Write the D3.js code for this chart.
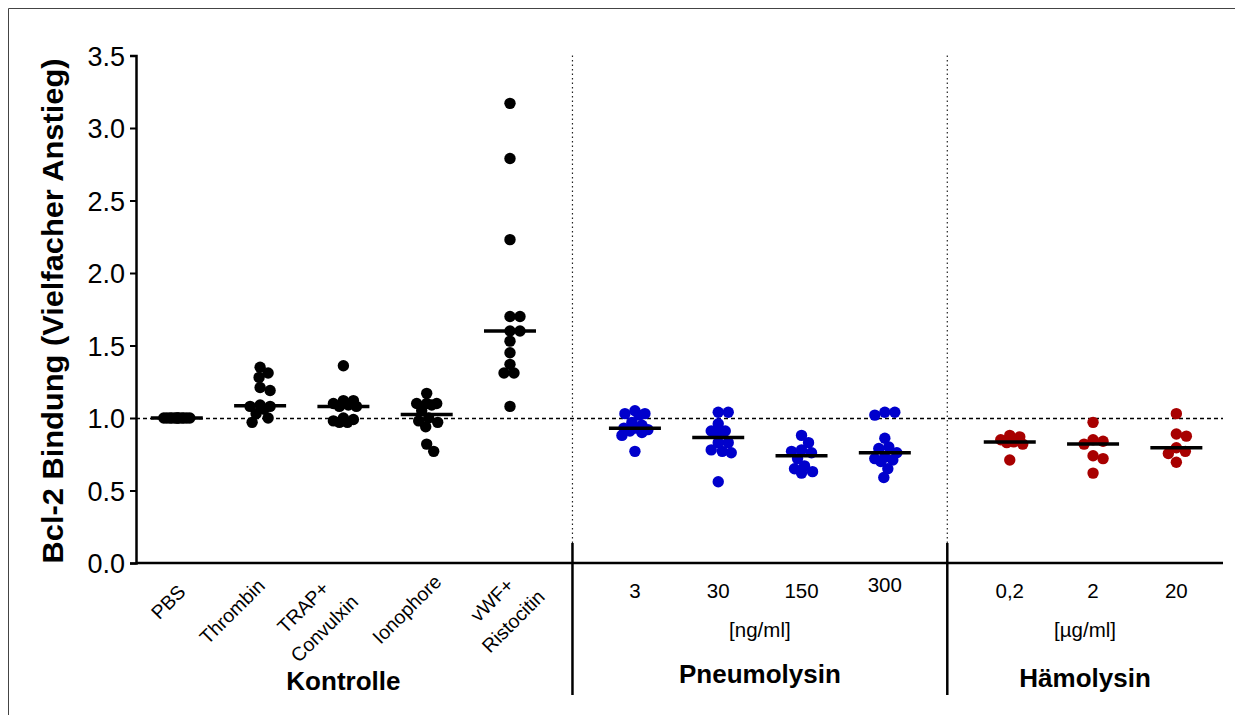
<!DOCTYPE html>
<html>
<head>
<meta charset="utf-8">
<script src="https://cdn.jsdelivr.net/npm/d3@7"></script>
<style>
  body { margin: 0; background: #fff; }
  svg { display: block; }
  text { font-family: "Liberation Sans", Arial, sans-serif; fill: #000; }
</style>
</head>
<body>
<div id="chart"></div>
<script>
// categories
var kontrolleLabels = [["PBS"], ["Thrombin"], ["TRAP+", "Convulxin"], ["Ionophore"], ["vWF+", "Ristocitin"]];
var pneumoLabels = ["3", "30", "150", "300"];
var haemoLabels = ["0,2", "2", "20"];
var groupNames = ["Kontrolle", "Pneumolysin", "Hämolysin"];
var unitLabels = ["", "[ng/ml]", "[µg/ml]"];
var yTicks = [0, 0.5, 1.0, 1.5, 2.0, 2.5, 3.0, 3.5];

// values (fold increase)
var pbs = [1, 1, 1, 1, 1, 1, 1, 1, 1, 1, 1, 1];
var thrombin = [1.35, 1.31, 1.28, 1.21, 1.19, 1.09, 1.08, 1.08, 1.06, 1.03, 1.00, 0.97];
var trapConvulxin = [1.36, 1.12, 1.12, 1.10, 1.09, 1.08, 1.08, 1.00, 0.99, 0.98, 0.97, 0.97];
var ionophore = [1.17, 1.10, 1.10, 1.10, 1.09, 1.05, 1.00, 0.98, 0.97, 0.94, 0.82, 0.77];
var vwfRistocitin = [3.17, 2.79, 2.23, 1.70, 1.70, 1.60, 1.60, 1.53, 1.45, 1.37, 1.31, 1.31, 1.08];
var pneumo3 = [1.05, 1.03, 1.03, 1.02, 0.97, 0.95, 0.93, 0.93, 0.92, 0.91, 0.90, 0.88, 0.77];
var pneumo30 = [1.04, 1.04, 0.96, 0.91, 0.91, 0.90, 0.83, 0.83, 0.78, 0.77, 0.76, 0.56];
var pneumo150 = [0.88, 0.83, 0.78, 0.77, 0.76, 0.72, 0.67, 0.65, 0.63, 0.62];
var pneumo300 = [1.04, 1.04, 1.02, 0.86, 0.80, 0.79, 0.76, 0.73, 0.72, 0.71, 0.70, 0.65, 0.59];
var haemo02 = [0.88, 0.87, 0.85, 0.835, 0.83, 0.82, 0.71];
var haemo2 = [0.97, 0.85, 0.84, 0.82, 0.74, 0.72, 0.62];
var haemo20 = [1.03, 0.89, 0.875, 0.795, 0.77, 0.755, 0.695];

var groupColors = ["#000000", "#0000cc", "#a80000"];

var groups = [
  {name: groupNames[0], unit: unitLabels[0], color: groupColors[0], labels: kontrolleLabels,
   series: [pbs, thrombin, trapConvulxin, ionophore, vwfRistocitin]},
  {name: groupNames[1], unit: unitLabels[1], color: groupColors[1], labels: pneumoLabels,
   series: [pneumo3, pneumo30, pneumo150, pneumo300]},
  {name: groupNames[2], unit: unitLabels[2], color: groupColors[2], labels: haemoLabels,
   series: [haemo02, haemo2, haemo20]}
];

// slot positions: one unit per column, 1.5 between groups
var slot = 0;
groups.forEach(function(g, gi) {
  if (gi > 0) slot += 0.5;
  g.slots = g.series.map(function() { return slot++; });
  g.start = g.slots[0];
  g.end = g.slots[g.slots.length - 1];
});

var W = 1235, H = 715;
var svg = d3.select("#chart").append("svg")
  .attr("width", W)
  .attr("height", H);

// outer frame
svg.append("line").attr("x1", 8.5).attr("x2", 8.5).attr("y1", 8.5).attr("y2", H)
  .attr("stroke", "#444").attr("stroke-width", 1);
svg.append("line").attr("x1", 8.5).attr("x2", W).attr("y1", 8.5).attr("y2", 8.5)
  .attr("stroke", "#444").attr("stroke-width", 1);

var x = d3.scaleLinear().domain([-0.49, 12.56]).range([136, 1223]);
var y = d3.scaleLinear().domain([0, 3.5]).range([563, 55.5]);

// y axis
var yAxis = svg.append("g")
  .attr("transform", "translate(" + x(-0.49) + ",0)")
  .call(d3.axisLeft(y).tickValues(yTicks).tickFormat(d3.format(".1f")).tickSize(6).tickPadding(5));
yAxis.select(".domain").attr("stroke-width", 2.5);
yAxis.selectAll(".tick line").attr("stroke-width", 2);
yAxis.selectAll(".tick text")
  .style("font-family", "'Liberation Sans', Arial, sans-serif")
  .style("font-size", "27px")
  .attr("dy", "0.36em");

svg.append("text")
  .attr("transform", "translate(63,311) rotate(-90)")
  .attr("text-anchor", "middle")
  .attr("textLength", 505)
  .attr("lengthAdjust", "spacingAndGlyphs")
  .style("font-size", "29px")
  .style("font-weight", "bold")
  .text("Bcl-2 Bindung (Vielfacher Anstieg)");

// x axis line (no ticks)
svg.append("line")
  .attr("x1", x(-0.49)).attr("x2", x(12.56))
  .attr("y1", y(0)).attr("y2", y(0))
  .attr("stroke", "#000").attr("stroke-width", 2.5);

// reference line at 1.0
svg.append("line")
  .attr("x1", x(-0.49)).attr("x2", x(12.56))
  .attr("y1", y(1) + 0.5).attr("y2", y(1) + 0.5)
  .attr("stroke", "#000").attr("stroke-width", 1.3)
  .attr("stroke-dasharray", "4,3");

// group separators
groups.slice(0, -1).forEach(function(g, gi) {
  var sx = (x(g.end) + x(groups[gi + 1].start)) / 2;
  svg.append("line")
    .attr("x1", sx).attr("x2", sx).attr("y1", y(3.5)).attr("y2", 543)
    .attr("stroke", "#222").attr("stroke-width", 1.2)
    .attr("stroke-dasharray", "1.5,3");
  svg.append("line")
    .attr("x1", sx).attr("x2", sx).attr("y1", 543).attr("y2", 695)
    .attr("stroke", "#000").attr("stroke-width", 2.5);
});

// simple capped beeswarm (Prism style column scatter)
var R = 5.7;
function swarm(vals) {
  var placed = [];
  var order = vals.map(function(v, i) { return i; })
    .sort(function(a, b) { return vals[b] - vals[a]; });
  var minD = 9.5, cap = 13;
  order.forEach(function(i) {
    var py = y(vals[i]);
    var best = 0, bestScore = -1;
    for (var k = 0; k <= cap * 2; k++) {
      var off = (k % 2 ? 1 : -1) * Math.ceil(k / 2);
      var d = placed.length ? d3.min(placed, function(p) { return Math.hypot(p.dx - off, p.y - py); }) : Infinity;
      if (d >= minD) { best = off; break; }
      if (d > bestScore) { bestScore = d; best = off; }
    }
    placed.push({dx: best, y: py, v: vals[i]});
  });
  return placed;
}

groups.forEach(function(g) {
  g.series.forEach(function(vals, si) {
    var cx = x(g.slots[si]);
    var pts = swarm(vals);
    svg.append("g").selectAll("circle")
      .data(pts)
      .enter()
      .append("circle")
        .attr("cx", function(d) { return cx + d.dx; })
        .attr("cy", function(d) { return d.y; })
        .attr("r", R)
        .attr("fill", g.color);
    var med = d3.median(vals);
    svg.append("line")
      .attr("x1", cx - 26).attr("x2", cx + 26)
      .attr("y1", y(med)).attr("y2", y(med))
      .attr("stroke", "#000").attr("stroke-width", 3.5);
  });
});

// category labels of the control group: rotated, end of last line near the column
var ctrl = groups[0];
var labelEnd = [[10, 593], [6, 587], [16, 603], [16, 583], [36, 598]];
ctrl.labels.forEach(function(lines, i) {
  var ex = x(ctrl.slots[i]) + labelEnd[i][0], ey = labelEnd[i][1];
  var lg = svg.append("g").attr("transform", "translate(" + ex + "," + ey + ") rotate(-45)");
  var last = lines.length - 1;
  var lastText = lg.append("text")
    .attr("text-anchor", "end")
    .style("font-size", "19.5px")
    .text(lines[last]);
  var w = lastText.node().getComputedTextLength();
  for (var j = 0; j < last; j++) {
    lg.append("text")
      .attr("x", -w / 2)
      .attr("y", -(last - j) * 30)
      .attr("text-anchor", "middle")
      .style("font-size", "19.5px")
      .text(lines[j]);
  }
});

// concentration labels
groups.slice(1).forEach(function(g) {
  g.labels.forEach(function(lab, i) {
    svg.append("text")
      .attr("x", x(g.slots[i]))
      .attr("y", lab === "300" ? 592 : 598)
      .attr("text-anchor", "middle")
      .style("font-size", "20.5px")
      .text(lab);
  });
});

// units and group names
var nameY = [690, 683, 687];
groups.forEach(function(g, gi) {
  var mid = (x(g.start) + x(g.end)) / 2;
  if (g.unit) {
    svg.append("text")
      .attr("x", mid - (gi === 2 ? 8 : 0)).attr("y", 637)
      .attr("text-anchor", "middle")
      .style("font-size", "20.5px")
      .text(g.unit);
  }
  svg.append("text")
    .attr("x", mid - (gi === 2 ? 8 : 0)).attr("y", nameY[gi])
    .attr("text-anchor", "middle")
    .style("font-size", "26px")
    .style("font-weight", "bold")
    .text(g.name);
});
</script>
</body>
</html>
